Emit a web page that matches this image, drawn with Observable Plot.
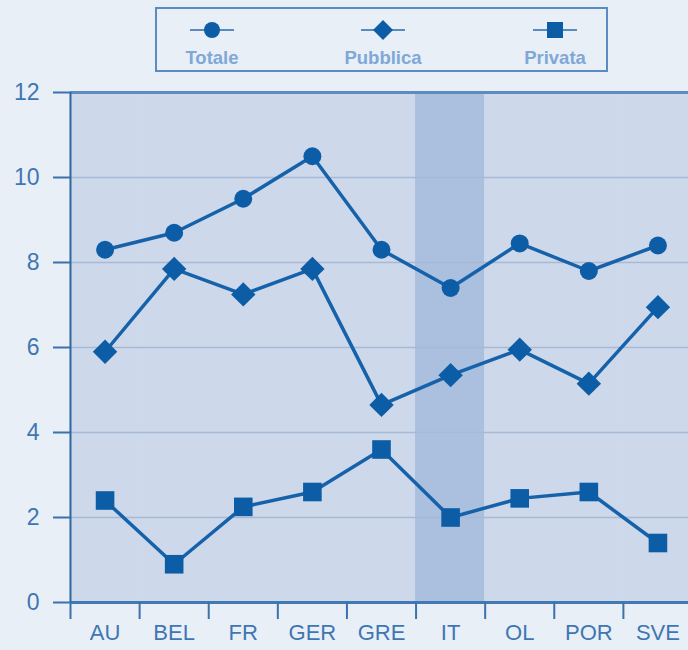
<!DOCTYPE html>
<html>
<head>
<meta charset="utf-8">
<script src="https://cdn.jsdelivr.net/npm/d3@7"></script>
<script src="https://cdn.jsdelivr.net/npm/@observablehq/plot@0.6"></script>
<style>
  html, body { margin: 0; padding: 0; background: #e9eff7; overflow: hidden; }
  #wrap { position: relative; width: 688px; height: 650px; }
  #legend { position: absolute; left: 155px; top: 7px; width: 449px; height: 61px;
    border: 2px solid #5a8cc2; background: #e9eff7; }
  .item { position: absolute; top: 0; width: 120px; margin-left: -60px; text-align: center;
    font-family: "Liberation Sans", Arial, sans-serif; font-weight: bold; font-size: 18.5px; color: #80a8d6; }
  .item svg { display: block; margin: 10px auto 6px auto; }
  #chart { position: absolute; left: 0; top: 80px; }
</style>
</head>
<body>
<div id="wrap">
  <div id="legend"></div>
  <div id="chart"></div>
</div>
<script>
const categories = ["AU", "BEL", "FR", "GER", "GRE", "IT", "OL", "POR", "SVE"];
const series = ["Totale", "Pubblica", "Privata"];
const totale   = [8.3, 8.7, 9.5, 10.5, 8.3, 7.4, 8.45, 7.8, 8.4];
const pubblica = [5.9, 7.85, 7.25, 7.85, 4.65, 5.35, 5.95, 5.15, 6.95];
const privata  = [2.4, 0.9, 2.25, 2.6, 3.6, 2.0, 2.45, 2.6, 1.4];
const highlight = "IT";
const yTicks = [0, 2, 4, 6, 8, 10, 12];

const lineColor = "#1662aa";
const markColor = "#0d5ca6";
const labelColor = "#3f76b2";

const values = {Totale: totale, Pubblica: pubblica, Privata: privata};
const rows = series.flatMap(s => categories.map((c, i) => ({cat: c, i, series: s, value: values[s][i]})));
const bands = categories.map((c, i) => ({cat: c, i}));

// legend
const symbols = {Totale: "circle", Pubblica: "diamond", Privata: "square"};
const lx = [55, 226, 398];
const legend = document.getElementById("legend");
series.forEach((s, k) => {
  const div = document.createElement("div");
  div.className = "item";
  div.style.left = lx[k] + "px";
  let shape;
  if (symbols[s] === "circle") shape = `<circle cx="22" cy="11" r="8" fill="${markColor}"/>`;
  else if (symbols[s] === "diamond") shape = `<path d="M22,1 L32,11 L22,21 L12,11 Z" fill="${markColor}"/>`;
  else shape = `<rect x="14" y="3" width="16" height="16" fill="${markColor}"/>`;
  div.innerHTML = `<svg width="44" height="22"><line x1="0" x2="44" y1="11" y2="11" stroke="#5a8bc0" stroke-width="2"/>${shape}</svg>${s}`;
  legend.appendChild(div);
});

const mid = d => d.i + 0.5;
const plot = Plot.plot({
  width: 688,
  height: 570,
  marginTop: 12,
  marginBottom: 48,
  marginLeft: 70,
  marginRight: 0,
  style: {background: "transparent", fontFamily: "Liberation Sans, Arial, sans-serif", overflow: "visible"},
  x: {type: "linear", domain: [0, categories.length], range: [70, 692]},
  y: {domain: [0, 12]},
  marks: [
    Plot.rect(bands, {x1: d => d.i, x2: d => d.i + 1, y1: 0, y2: 12,
      fill: d => d.cat === highlight ? "#aac0de" : "#cdd9eb",
      stroke: d => d.cat === highlight ? "#aac0de" : "#cdd9eb", strokeWidth: 1}),
    Plot.ruleY(yTicks.filter(t => t > 0 && t < 12), {stroke: "#a6b9d5", strokeWidth: 1.5}),
    Plot.ruleY([12], {stroke: "#5d8cbf", strokeWidth: 3}),
    Plot.ruleY([0], {stroke: "#4079b3", strokeWidth: 3}),
    Plot.ruleX([0], {stroke: "#2f68a3", strokeWidth: 2}),
    Plot.axisY({ticks: yTicks, tickSize: 17, tickPadding: 14, fontSize: 23, fill: labelColor, label: null,
      stroke: "#3a72ad", strokeWidth: 2, tickFormat: d => String(d)}),
    Plot.axisX({ticks: d3.range(categories.length), tickSize: 17, tickFormat: () => "", label: null,
      stroke: "#3a72ad", strokeWidth: 2}),
    Plot.axisX({ticks: categories.map((c, i) => i + 0.5), tickSize: 0, tickPadding: 22, fontSize: 22, label: null,
      fill: labelColor, tickFormat: d => categories[Math.floor(d)]}),
    Plot.line(rows, {x: mid, y: "value", z: "series", stroke: lineColor, strokeWidth: 3.5}),
    Plot.dot(rows.filter(d => d.series === "Totale"), {x: mid, y: "value", symbol: "circle", r: 9, fill: markColor}),
    Plot.dot(rows.filter(d => d.series === "Pubblica"), {x: mid, y: "value", symbol: "diamond2", r: 11, fill: markColor}),
    Plot.dot(rows.filter(d => d.series === "Privata"), {x: mid, y: "value", symbol: "square", r: 10.5, fill: markColor})
  ]
});
document.getElementById("chart").appendChild(plot);
</script>
</body>
</html>
